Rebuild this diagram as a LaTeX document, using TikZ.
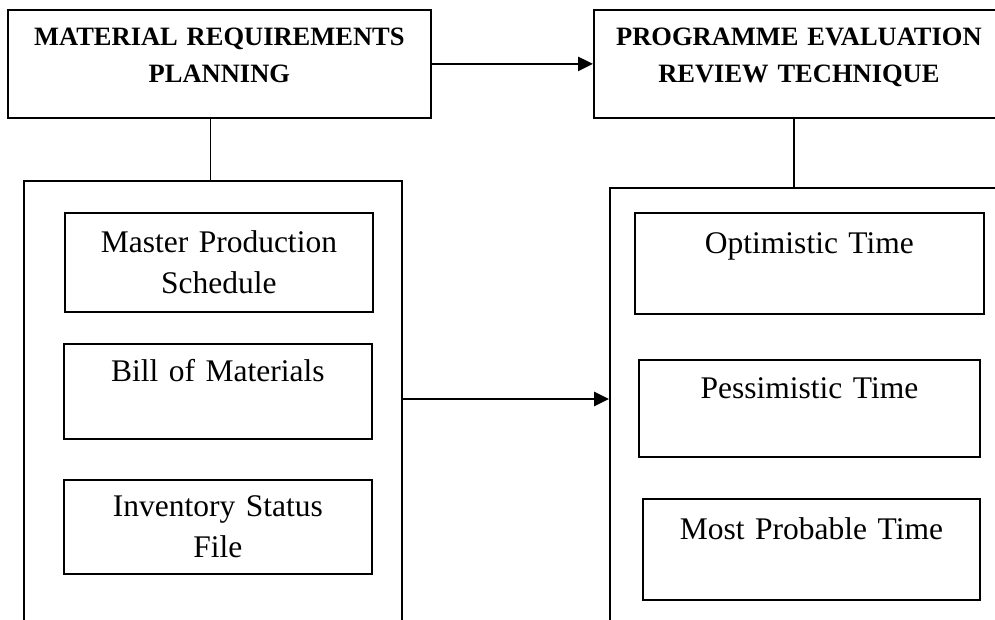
\documentclass[tikz,border=0pt]{standalone}
\usepackage{fontspec}
\setmainfont{Liberation Serif}
\usetikzlibrary{arrows.meta,positioning,calc}
\tikzset{
  headnode/.style={draw, line width=1.8pt, anchor=north west, align=center, inner sep=0pt,
    font=\fontsize{26.5}{37}\selectfont\bfseries, text depth=54pt},
  groupnode/.style={draw, line width=1.8pt, anchor=north west, inner sep=0pt},
  itemnode/.style={draw, line width=1.8pt, anchor=north west, align=center, inner sep=0pt,
    font=\fontsize{31.5}{41}\selectfont},
  link/.style={line width=1.8pt},
  flow/.style={line width=2.6pt, -{Triangle[length=15pt,width=14pt]}}
}

\begin{document}
\begin{tikzpicture}[x=1pt,y=-1pt]
	\useasboundingbox (0,0) rectangle (995,620);
	\clip (0,0) rectangle (995,620);

	% headings
	\node [headnode, minimum width=423pt, minimum height=108pt, text width=410pt] (mrp) at (7,9)
		{MATERIAL REQUIREMENTS\\PLANNING};
	\node [headnode, minimum width=410pt, minimum height=108pt, text width=400pt] (pert) at (593,9)
		{PROGRAMME EVALUATION\\REVIEW TECHNIQUE};

	% group frames
	\node [groupnode, minimum width=378pt, minimum height=460pt] (mrpgroup) at (23,180) {};
	\node [groupnode, minimum width=400pt, minimum height=460pt] (pertgroup) at (609,187) {};

	% MRP inputs
	\node [itemnode, minimum width=308pt, minimum height=99pt, text width=300pt] (mps) at (64,212)
		{Master Production\\Schedule};
	\node [itemnode, minimum width=308pt, minimum height=95pt, text width=300pt] (bom) at (63,343)
		{Bill of Materials\\\mbox{}};
	\node [itemnode, minimum width=308pt, minimum height=94pt, text width=300pt] (isf) at (63,479)
		{Inventory Status\\File};

	% PERT estimates
	\node [itemnode, minimum width=349pt, minimum height=101pt, text width=340pt] (opt) at (634,212)
		{Optimistic Time\\\mbox{}};
	\node [itemnode, minimum width=341pt, minimum height=97pt, text width=330pt] (pes) at (638,359)
		{Pessimistic Time\\\mbox{}};
	\node [itemnode, minimum width=337pt, minimum height=101pt, text width=330pt] (mpt) at (642,498)
		{Most Probable Time\\\mbox{}};

	% connectors
	\coordinate (mid) at (0,399);
	\draw [flow] (mrp.east) -- (pert.west);
	\draw [link] ([xshift=-9pt]mrp.south) -- ([xshift=-9pt]mrp.south |- mrpgroup.north);
	\draw [link] ([xshift=-5pt]pert.south) -- ([xshift=-5pt]pert.south |- pertgroup.north);
	\draw [flow] (mrpgroup.east |- mid) -- (pertgroup.west |- mid);
\end{tikzpicture}
\end{document}
